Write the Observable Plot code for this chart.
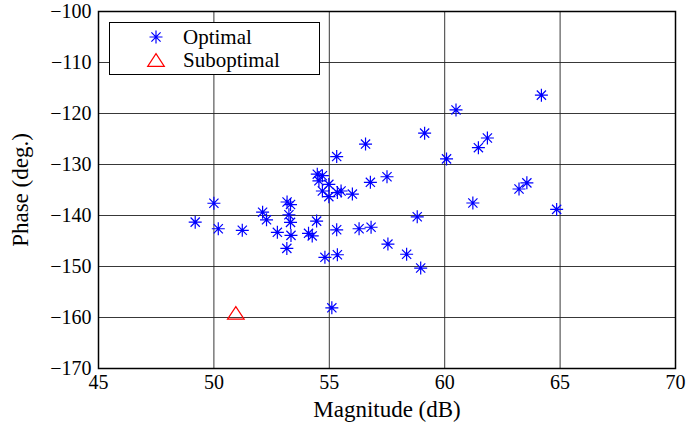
<!DOCTYPE html>
<html>
<head>
<meta charset="utf-8">
<script src="https://cdn.jsdelivr.net/npm/d3@7"></script>
<script src="https://cdn.jsdelivr.net/npm/@observablehq/plot@0.6"></script>
<style>
  html, body { margin: 0; padding: 0; background: #fff; }
  #wrap { position: relative; width: 686px; height: 432px; font-family: "Liberation Serif", "DejaVu Serif", serif; }
  #legend { position: absolute; left: 109px; top: 22px; width: 209px; height: 51px; border: 1.5px solid #000; background: #fff; font-size: 21px; }
  #legend .row { position: absolute; left: 0; height: 24px; line-height: 24px; }
  #legend svg { position: absolute; left: 36px; top: 3px; }
  #legend span { position: absolute; left: 73px; white-space: nowrap; }
</style>
</head>
<body>
<div id="wrap"><div id="chart"></div>
<div id="legend">
  <div class="row" style="top:2px"><svg width="20" height="18" viewBox="-10 -9 20 18"><g stroke="#0000ff" stroke-width="1.2" fill="none"><path d="M-6.5,0L6.5,0M0,-6.5L0,6.5M-4.6,-4.6L4.6,4.6M-4.6,4.6L4.6,-4.6"/></g></svg><span>Optimal</span></div>
  <div class="row" style="top:25px"><svg width="20" height="18" viewBox="-10 -9 20 18"><path d="M0,-6.3L8.3,6.3L-8.3,6.3Z" stroke="#ff0000" stroke-width="1.2" fill="none"/></svg><span>Suboptimal</span></div>
</div>
</div>
<script>
// Optimal points: magnitude (dB) and phase (deg.)
const optMag = [49.19, 50.0, 50.19, 51.23, 52.11, 52.28, 52.75, 53.16, 53.17, 53.32, 53.25, 53.32, 53.34,
  54.10, 54.26, 54.45, 54.81, 55.35, 55.32, 56.29, 56.81, 57.54, 58.35, 58.81, 58.96, 55.11,
  56.57, 55.32, 54.48, 54.70, 54.55, 54.98, 54.70, 54.98, 55.35, 55.51, 56.0, 56.78, 57.50,
  60.49, 59.13, 61.85, 61.46, 60.08, 64.19, 63.56, 63.22, 61.22, 64.85];
const optPhase = [-141.3, -137.6, -142.6, -142.9, -139.35, -140.85, -143.3, -146.45, -137.35, -137.85, -139.85, -141.35, -143.9,
  -143.5, -144.0, -141.1, -148.2, -147.7, -142.8, -142.6, -142.3, -145.6, -147.6, -140.25, -150.3, -158.1,
  -126.0, -128.45, -131.9, -132.2, -133.2, -133.9, -135.2, -136.3, -135.5, -135.2, -135.8, -133.5, -132.4,
  -119.3, -123.85, -124.8, -126.7, -128.9, -116.4, -133.6, -134.8, -137.55, -138.8];
// Suboptimal point
const subMag = [50.95];
const subPhase = [-159.1];
// Axis ticks
const xTicks = [45, 50, 55, 60, 65, 70];
const yTicks = [-170, -160, -150, -140, -130, -120, -110, -100];

const optimal = optMag.map((m, i) => ({mag: m, phase: optPhase[i]}));
const suboptimal = subMag.map((m, i) => ({mag: m, phase: subPhase[i]}));

const star = {
  draw(ctx, size) {
    const r = Math.sqrt(size / Math.PI);
    const d = r * 0.7071;
    ctx.moveTo(-r, 0); ctx.lineTo(r, 0);
    ctx.moveTo(0, -r); ctx.lineTo(0, r);
    ctx.moveTo(-d, -d); ctx.lineTo(d, d);
    ctx.moveTo(-d, d); ctx.lineTo(d, -d);
  }
};
const tri = {
  draw(ctx, size) {
    const r = Math.sqrt(size / Math.PI);
    ctx.moveTo(0, -r * 0.76);
    ctx.lineTo(r, r * 0.76);
    ctx.lineTo(-r, r * 0.76);
    ctx.closePath();
  }
};

const fmt = d3.format("d");
const serif = "'Liberation Serif', 'DejaVu Serif', serif";
const chart = Plot.plot({
  width: 686,
  height: 432,
  marginLeft: 98,
  marginRight: 11,
  marginTop: 11,
  marginBottom: 64,
  style: {fontFamily: serif, fontSize: "20px", background: "#fff", color: "#000"},
  x: {domain: [45, 70], axis: null},
  y: {domain: [-170, -100], axis: null},
  marks: [
    Plot.gridX(xTicks, {stroke: "#222", strokeOpacity: 0.9, strokeWidth: 1}),
    Plot.gridY(yTicks, {stroke: "#222", strokeOpacity: 0.9, strokeWidth: 1}),
    Plot.text(xTicks, {x: d => d, text: fmt, frameAnchor: "bottom", textAnchor: "middle", lineAnchor: "top", dy: 6, fontSize: 20, fontFamily: serif, fill: "#000"}),
    Plot.text(yTicks, {y: d => d, text: fmt, frameAnchor: "left", textAnchor: "end", dx: -7, fontSize: 20, fontFamily: serif, fill: "#000"}),
    Plot.text(["Magnitude (dB)"], {frameAnchor: "bottom", textAnchor: "middle", lineAnchor: "top", dy: 32, fontSize: 23, fontFamily: serif, fill: "#000"}),
    Plot.text(["Phase (deg.)"], {frameAnchor: "left", textAnchor: "middle", dx: -78, rotate: -90, fontSize: 23, fontFamily: serif, fill: "#000"}),
    Plot.dot(optimal, {x: "mag", y: "phase", symbol: star, r: 6.5, stroke: "#0000ff", strokeWidth: 1.2, fill: "none"}),
    Plot.dot(suboptimal, {x: "mag", y: "phase", symbol: tri, r: 8.3, stroke: "#ff0000", strokeWidth: 1.2, fill: "none"}),
    Plot.frame({stroke: "#000", strokeWidth: 1.5})
  ]
});
document.getElementById("chart").appendChild(chart);
</script>
</body>
</html>
